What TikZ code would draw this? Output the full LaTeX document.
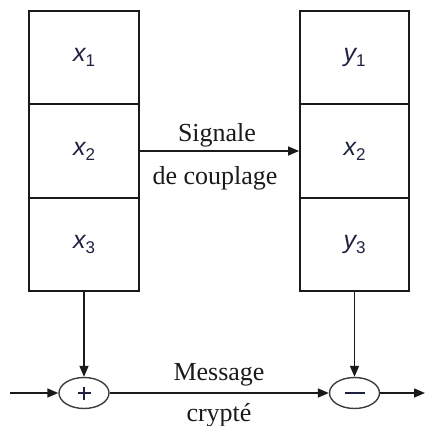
\documentclass[tikz,border=0pt]{standalone}
\usepackage{fontspec}
\setmainfont{Liberation Serif}
\newfontfamily\labfont{Liberation Sans}
\usetikzlibrary{arrows.meta,shapes.geometric}
\definecolor{ink}{HTML}{1A1A1A}
\definecolor{varink}{HTML}{1E2140}
\newcommand{\cellvar}[2]{{\labfont\fontsize{25}{25}\selectfont\itshape #1}\raisebox{-5pt}{\labfont\fontsize{17}{17}\selectfont #2}}
\begin{document}
\begin{tikzpicture}[x=1pt,y=-1pt,
  cell/.style={draw=ink,line width=1.8pt,minimum width=110pt,minimum height=93.33pt,inner sep=0pt,text=varink},
  opnode/.style={draw=ink!85,line width=1.4pt,ellipse,minimum width=50pt,minimum height=31pt,inner sep=0pt},
  flow/.style={draw=ink,line width=1.5pt,-{Triangle[length=11pt,width=9pt]}},
  caption/.style={font=\fontsize{26}{28}\selectfont,anchor=base,inner sep=0pt,text=ink}]
  \useasboundingbox (0,0) rectangle (425,426);

  % left register
  \node[cell] (x1) at (84,57.67) {\cellvar{x}{1}};
  \node[cell] (x2) at (84,151)   {\cellvar{x}{2}};
  \node[cell] (x3) at (84,244.33) {\cellvar{x}{3}};

  % right register
  \node[cell,minimum width=109pt] (y1) at (354.5,57.67) {\cellvar{y}{1}};
  \node[cell,minimum width=109pt] (y2) at (354.5,151)   {\cellvar{x}{2}};
  \node[cell,minimum width=109pt] (y3) at (354.5,244.33) {\cellvar{y}{3}};

  % adder and subtractor
  \node[opnode] (add) at (84,393) {};
  \node[opnode] (sub) at (354.5,393) {};
  \draw[varink,line width=2pt] ([xshift=-6.5pt]add.center) -- ([xshift=6.5pt]add.center)
                               ([yshift=-6.5pt]add.center) -- ([yshift=6.5pt]add.center);
  \draw[varink,line width=2.2pt] ([xshift=-10pt]sub.center) -- ([xshift=10pt]sub.center);

  % free ends of the message line
  \coordinate (msgin) at (10,393);
  \coordinate (msgout) at (425,393);

  % connectors
  \draw[flow] (x2.east) -- (x2.east -| y2.west);
  \draw[flow] (x3.south) -- (add.north);
  \draw[flow] (y3.south) -- (sub.north);
  \draw[flow] (msgin) -- (add.west);
  \draw[flow] (add.east) -- (sub.west);
  \draw[flow] (sub.east) -- (msgout);

  % captions
  \node[caption] (sig1) at (217,141) {Signale};
  \node[caption] (sig2) at (215,184) {de couplage};
  \node[caption] (msg1) at (219,380) {Message};
  \node[caption] (msg2) at (219,421) {crypté};
\end{tikzpicture}
\end{document}
